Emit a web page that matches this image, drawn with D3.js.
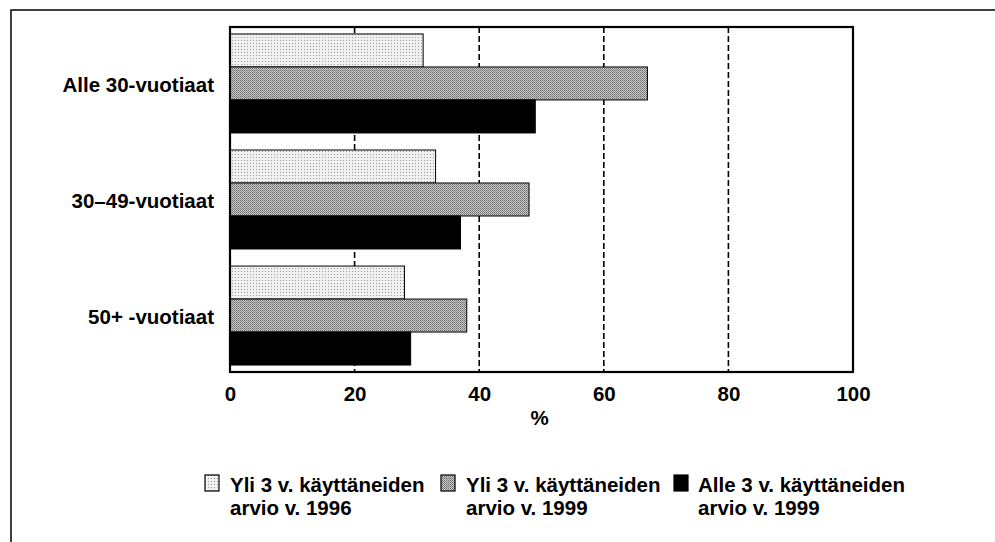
<!DOCTYPE html>
<html><head><meta charset="utf-8">
<script src="https://cdn.jsdelivr.net/npm/d3@7"></script>
<style>
html,body{margin:0;padding:0;background:#fff;}
svg text{font-family:"Liberation Sans",Arial,Helvetica,sans-serif;fill:#000;}
</style></head>
<body>
<svg id="chart" width="995" height="542"></svg>
<script>
const categories = ["Alle 30-vuotiaat", "30–49-vuotiaat", "50+ -vuotiaat"];
const seriesNames = [
  ["Yli 3 v. käyttäneiden", "arvio v. 1996"],
  ["Yli 3 v. käyttäneiden", "arvio v. 1999"],
  ["Alle 3 v. käyttäneiden", "arvio v. 1999"]
];
const yli1996 = [31, 33, 28];
const yli1999 = [67, 48, 38];
const alle1999 = [49, 37, 29];
const xTicks = [0, 20, 40, 60, 80, 100];
const gridTicks = [20, 40, 60, 80];
const xTitle = "%";

(function(){
const series = [yli1996, yli1999, alle1999];
const fills = ["url(#pLight)", "url(#pMid)", "#000"];
const FONT = "Liberation Sans, Arial, sans-serif";
const FS = 20.5;

const svg = d3.select("#chart");
const defs = svg.append("defs");
const p1 = defs.append("pattern").attr("id","pLight").attr("width",3).attr("height",3).attr("patternUnits","userSpaceOnUse");
p1.append("rect").attr("width",3).attr("height",3).attr("fill","#f0f0f0");
p1.append("rect").attr("x",1).attr("y",1).attr("width",1).attr("height",1).attr("fill","#9a9a9a");
const p2 = defs.append("pattern").attr("id","pMid").attr("width",2).attr("height",2).attr("patternUnits","userSpaceOnUse");
p2.append("rect").attr("width",2).attr("height",2).attr("fill","#cccccc");
p2.append("rect").attr("x",0).attr("y",0).attr("width",1).attr("height",1).attr("fill","#666");
p2.append("rect").attr("x",1).attr("y",1).attr("width",1).attr("height",1).attr("fill","#888");

svg.append("path").attr("d","M11,542 L11,10 L995,10").attr("fill","none").attr("stroke","#000").attr("stroke-width",1.5);

const pL = 230, pR = 853, pT = 27, pB = 372;
const x = d3.scaleLinear().domain([0,100]).range([pL,pR]);
const y = d3.scaleBand().domain(categories).range([pT,pB]).paddingInner(0.147).paddingOuter(0.06);
const ySub = d3.scaleBand().domain([0,1,2]).range([0,y.bandwidth()]);

svg.append("g").selectAll("line").data(gridTicks).join("line")
  .attr("x1",d=>x(d)).attr("x2",d=>x(d)).attr("y1",pT).attr("y2",pB)
  .attr("stroke","#000").attr("stroke-width",1.6).attr("stroke-dasharray","6,3");

const g = svg.append("g");
categories.forEach((c,i)=>{
  series.forEach((s,j)=>{
    g.append("rect")
      .attr("x",x(0)).attr("y",y(c)+ySub(j))
      .attr("width",x(s[i])-x(0)).attr("height",ySub.bandwidth())
      .attr("fill",fills[j]).attr("stroke","#000").attr("stroke-width",1);
  });
});

svg.append("rect").attr("x",pL).attr("y",pT).attr("width",pR-pL).attr("height",pB-pT)
  .attr("fill","none").attr("stroke","#000").attr("stroke-width",2.2);

const xAxis = d3.axisBottom(x).tickValues(xTicks).tickSize(0).tickPadding(14).tickFormat(d3.format("d"));
const xa = svg.append("g").attr("transform",`translate(0,${pB})`).call(xAxis);
xa.select(".domain").remove();
xa.selectAll("text").attr("font-size",FS).attr("font-weight","bold").attr("font-family",FONT).attr("fill","#000");

svg.append("text").attr("x",x(50)-2).attr("y",425).attr("text-anchor","middle")
  .attr("font-size",FS).attr("font-weight","bold").text(xTitle);

const yAxis = d3.axisLeft(y).tickSize(0).tickPadding(16);
const ya = svg.append("g").attr("transform",`translate(${pL},0)`).call(yAxis);
ya.select(".domain").remove();
ya.selectAll("text").attr("font-size",FS).attr("font-weight","bold").attr("font-family",FONT).attr("fill","#000").attr("dy","0.4em");

const legX = [205, 441, 674];
const legTX = [230, 466, 698];
const legend = svg.append("g");
seriesNames.forEach((nm,j)=>{
  legend.append("rect").attr("x",legX[j]).attr("y",475).attr("width",14).attr("height",16)
    .attr("fill",fills[j]).attr("stroke","#000").attr("stroke-width",1.2);
  const t = legend.append("text").attr("x",legTX[j]).attr("y",492).attr("font-size",FS).attr("font-weight","bold");
  t.append("tspan").attr("x",legTX[j]).text(nm[0]);
  t.append("tspan").attr("x",legTX[j]).attr("y",515).text(nm[1]);
});
})();
</script>
</body></html>
